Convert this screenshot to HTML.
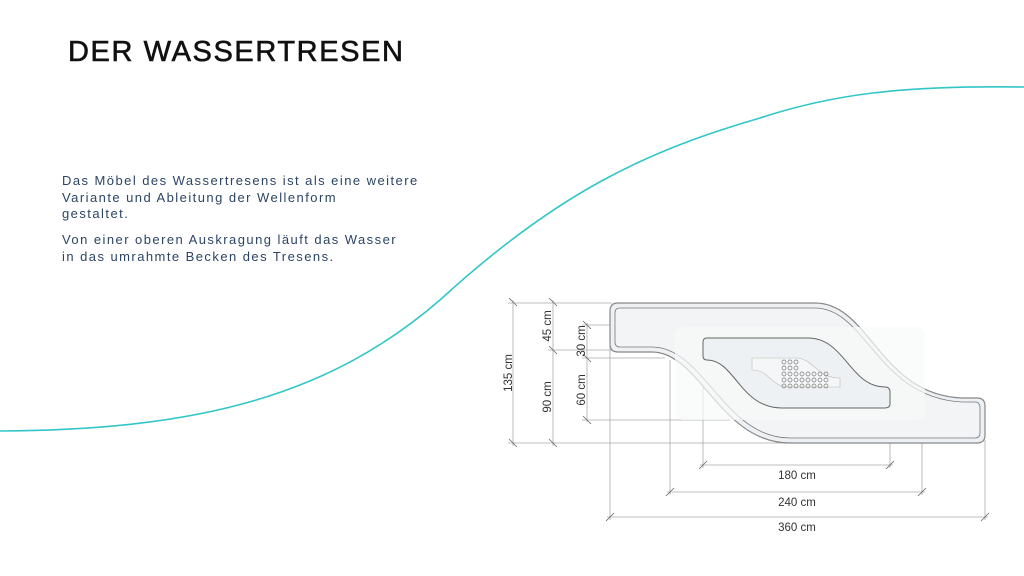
<!DOCTYPE html>
<html><head><meta charset="utf-8"><style>
body{margin:0;width:1024px;height:576px;background:#fff;position:relative;overflow:hidden;font-family:"Liberation Sans",sans-serif}
h1{position:absolute;left:68px;top:36px;margin:0;font-size:29px;font-weight:normal;letter-spacing:1.6px;color:#111;-webkit-text-stroke:0.6px #111;white-space:nowrap}
.p{position:absolute;left:62px;font-size:13px;line-height:16.5px;letter-spacing:1.45px;color:#2c4466;white-space:nowrap}
svg{position:absolute;left:0;top:0}
</style></head><body>
<svg width="1024" height="576" viewBox="0 0 1024 576">
<path d="M0,431 C200,430 330,395 440,300 C560,190 650,150 760,118 C830,95 900,85 1024,87" fill="none" stroke="#31c6c9" stroke-width="1.6"/>
<g stroke="#aaa" stroke-width="0.8" fill="none">
<line x1="513" y1="300" x2="513" y2="446"/><line x1="553" y1="300" x2="553" y2="446"/><line x1="587" y1="323" x2="587" y2="422"/>
<line x1="508" y1="303" x2="612" y2="303"/><line x1="508" y1="443" x2="790" y2="443"/>
<line x1="548" y1="350" x2="650" y2="350"/><line x1="582" y1="325" x2="610" y2="325"/><line x1="582" y1="358" x2="665" y2="358"/><line x1="582" y1="420" x2="730" y2="420"/>
<line x1="610" y1="320" x2="610" y2="520"/><line x1="670" y1="360" x2="670" y2="495"/><line x1="703" y1="355" x2="703" y2="468"/><line x1="890" y1="400" x2="890" y2="468"/><line x1="922" y1="440" x2="922" y2="495"/><line x1="985" y1="440" x2="985" y2="520"/>
<line x1="700" y1="465" x2="893" y2="465"/><line x1="667" y1="492" x2="925" y2="492"/><line x1="607" y1="517" x2="988" y2="517"/>
<g stroke="#666"><path d="M509,298l8,8M509,439l8,8M549,298l8,8M549,346l8,8M549,439l8,8M583,321l8,8M583,354l8,8M583,416l8,8M699,469l8,-8M886,469l8,-8M666,496l8,-8M918,496l8,-8M606,521l8,-8M981,521l8,-8"/></g>
</g>
<path d="M618,303 H815 C870,303 880,395 962,398 H977 Q985,398 985,406 V435 Q985,443 977,443 H790 C720,443 700,352 652,352 H618 Q610,352 610,344 V311 Q610,303 618,303Z" fill="#eef1f3" stroke="#888" stroke-width="1.2"/>
<path d="M620,308 H815 C866,308 878,398 962,402 H975 Q980,402 980,408 V433 Q980,438 975,438 H790 C724,438 704,347 652,347 H620 Q615,347 615,342 V313 Q615,308 620,308Z" fill="#f2f4f6" stroke="#777" stroke-width="0.8"/>
<rect x="675" y="327" width="250" height="93" rx="8" fill="#f8f9fa" opacity="0.7"/>
<path d="M707,338 H808 C845,338 850,387 885,387 Q890,387 890,392 V404 Q890,408 885,408 H782 C740,408 735,360 707,360 Q703,360 703,356 V342 Q703,338 707,338Z" fill="#eef1f3" stroke="#666" stroke-width="1"/>
<path d="M752,358 H795 C815,358 815,378 840,378 V387 H790 C770,387 770,370 752,370Z" fill="#f5f6f7" stroke="#bbb" stroke-width="0.6"/>
<g fill="none" stroke="#777" stroke-width="0.7">
<circle cx="784" cy="362" r="2"/><circle cx="790" cy="362" r="2"/><circle cx="796" cy="362" r="2"/>
<circle cx="784" cy="368" r="2"/><circle cx="790" cy="368" r="2"/><circle cx="796" cy="368" r="2"/>
<circle cx="784" cy="374" r="2"/><circle cx="790" cy="374" r="2"/><circle cx="796" cy="374" r="2"/><circle cx="802" cy="374" r="2"/><circle cx="808" cy="374" r="2"/><circle cx="814" cy="374" r="2"/><circle cx="820" cy="374" r="2"/><circle cx="826" cy="374" r="2"/>
<circle cx="784" cy="380" r="2"/><circle cx="790" cy="380" r="2"/><circle cx="796" cy="380" r="2"/><circle cx="802" cy="380" r="2"/><circle cx="808" cy="380" r="2"/><circle cx="814" cy="380" r="2"/><circle cx="820" cy="380" r="2"/><circle cx="826" cy="380" r="2"/>
<circle cx="784" cy="386" r="2"/><circle cx="790" cy="386" r="2"/><circle cx="796" cy="386" r="2"/><circle cx="802" cy="386" r="2"/><circle cx="808" cy="386" r="2"/><circle cx="814" cy="386" r="2"/><circle cx="820" cy="386" r="2"/><circle cx="826" cy="386" r="2"/>
</g>
<g font-family="Liberation Sans, sans-serif" font-size="11.5" fill="#333" text-anchor="middle">
<text x="797" y="479">180 cm</text><text x="797" y="506">240 cm</text><text x="797" y="531">360 cm</text>
<text transform="translate(512,373) rotate(-90)">135 cm</text>
<text transform="translate(551,326) rotate(-90)">45 cm</text>
<text transform="translate(551,397) rotate(-90)">90 cm</text>
<text transform="translate(585,341) rotate(-90)">30 cm</text>
<text transform="translate(585,390) rotate(-90)">60 cm</text>
</g>
</svg>
<h1>DER WASSERTRESEN</h1>
<div class="p" style="top:173px">Das Möbel des Wassertresens ist als eine weitere<br>Variante und Ableitung der Wellenform<br>gestaltet.</div>
<div class="p" style="top:232px">Von einer oberen Auskragung läuft das Wasser<br>in das umrahmte Becken des Tresens.</div>
</body></html>
